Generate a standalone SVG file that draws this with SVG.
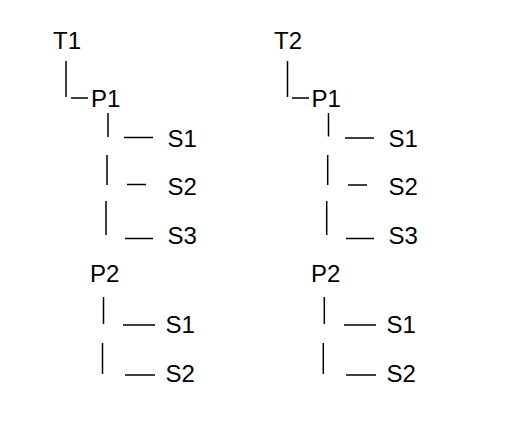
<svg xmlns="http://www.w3.org/2000/svg" width="505" height="430" viewBox="0 0 505 430">
<style>
text{font-family:"Liberation Sans",Arial,sans-serif;font-size:24px;fill:#000}
.c line{stroke:#000;stroke-width:1.5}
</style>
<rect width="505" height="430" fill="#fff"/>
<g class="c" id="connectors">
<line x1="66" y1="61" x2="66" y2="97"/>
<line x1="71" y1="98" x2="88" y2="98"/>
<line x1="108" y1="113" x2="108" y2="137"/>
<line x1="124" y1="137.5" x2="153" y2="137.5"/>
<line x1="107" y1="155" x2="107" y2="185"/>
<line x1="127" y1="184.5" x2="146" y2="184.5"/>
<line x1="106" y1="201" x2="106" y2="235"/>
<line x1="125" y1="238.5" x2="153" y2="238.5"/>
<line x1="103.5" y1="297" x2="103.5" y2="324"/>
<line x1="123" y1="325" x2="155" y2="325"/>
<line x1="102.5" y1="343" x2="102.5" y2="374"/>
<line x1="125" y1="375" x2="155" y2="375"/>
<line x1="287.5" y1="61" x2="287.5" y2="97"/>
<line x1="292" y1="98" x2="309" y2="98"/>
<line x1="328.5" y1="113" x2="328.5" y2="136.5"/>
<line x1="345" y1="138" x2="374" y2="138"/>
<line x1="327.7" y1="155" x2="327.7" y2="185"/>
<line x1="348" y1="185" x2="367" y2="185"/>
<line x1="326.7" y1="201" x2="326.7" y2="235"/>
<line x1="346" y1="238.5" x2="374" y2="238.5"/>
<line x1="324.3" y1="297" x2="324.3" y2="324"/>
<line x1="344" y1="325" x2="376" y2="325"/>
<line x1="323.3" y1="343" x2="323.3" y2="374"/>
<line x1="346" y1="375" x2="376" y2="375"/>
</g>
<g id="T1"><text x="53" y="49">T1</text></g>
<g id="T1-P1"><text x="91" y="107">P1</text></g>
<g id="T1-P1-S1"><text x="167.5" y="146.5">S1</text></g>
<g id="T1-P1-S2"><text x="167.5" y="195">S2</text></g>
<g id="T1-P1-S3"><text x="167.5" y="243.5">S3</text></g>
<g id="T1-P2"><text x="90" y="281.5">P2</text></g>
<g id="T1-P2-S1"><text x="165.5" y="333">S1</text></g>
<g id="T1-P2-S2"><text x="165.5" y="381.5">S2</text></g>
<g id="T2"><text x="274" y="49">T2</text></g>
<g id="T2-P1"><text x="311.5" y="107">P1</text></g>
<g id="T2-P1-S1"><text x="388.5" y="146.5">S1</text></g>
<g id="T2-P1-S2"><text x="388.5" y="195">S2</text></g>
<g id="T2-P1-S3"><text x="388.5" y="243.5">S3</text></g>
<g id="T2-P2"><text x="311" y="281.5">P2</text></g>
<g id="T2-P2-S1"><text x="386.5" y="333">S1</text></g>
<g id="T2-P2-S2"><text x="386.5" y="381.5">S2</text></g>
</svg>
